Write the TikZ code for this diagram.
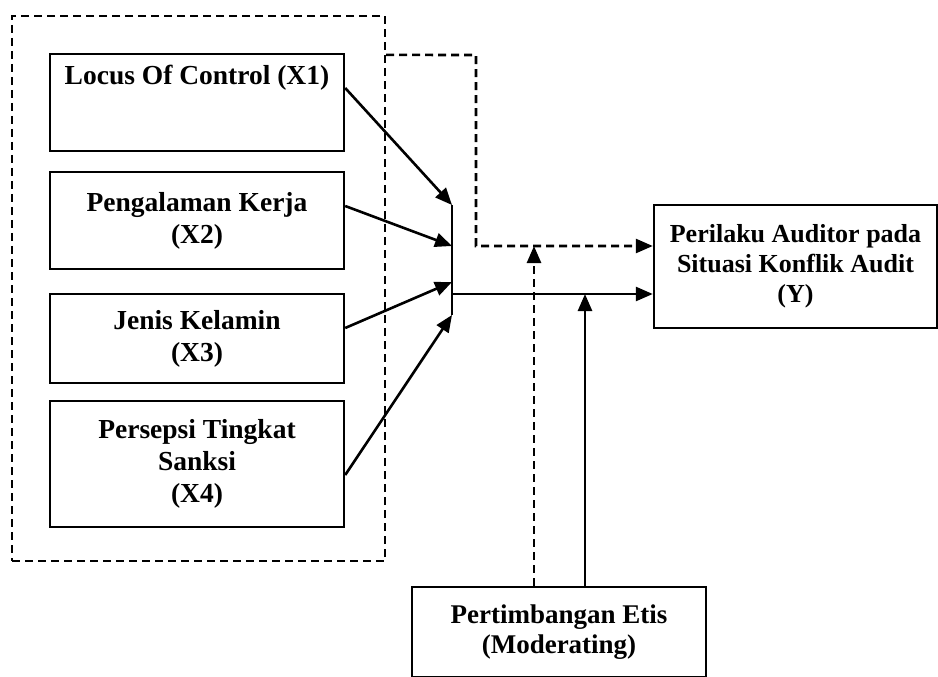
\documentclass[tikz,border=0pt]{standalone}
\usepackage{fontspec}
\setmainfont{Liberation Serif}
\usetikzlibrary{arrows.meta,calc}
\begin{document}
\begin{tikzpicture}[x=1pt,y=-1pt,
  box/.style={draw,line width=2.4pt,rectangle,inner sep=0pt,align=center,
    font=\fontsize{27.5}{32}\selectfont\bfseries},
  grpbox/.style={draw,line width=2.2pt,dash pattern=on 8pt off 5pt,rectangle,inner sep=0pt},
  arr/.style={line width=2.6pt,-{Triangle[length=17pt,width=14pt]}},
  darr/.style={line width=2.6pt,dash pattern=on 8pt off 5pt,-{Triangle[length=17pt,width=14pt]}},
  bar/.style={line width=2.4pt}]
\useasboundingbox (0,0) rectangle (938,677);
% group
\node[grpbox,minimum width=373pt,minimum height=545pt] (grp) at (198.5,288.5) {};
% independent boxes
\node[box,minimum width=294pt,minimum height=97pt,
  label={[anchor=north,inner sep=0pt,yshift=-12pt,font=\fontsize{27.5}{32}\selectfont\bfseries]north:Locus Of Control (X1)}] (x1) at (197,102.5) {};
\node[box,minimum width=294pt,minimum height=97pt] (x2) at (197,220.5) {Pengalaman Kerja\\(X2)};
\node[box,minimum width=294pt,minimum height=89pt] (x3) at (197,338.5) {Jenis Kelamin\\(X3)};
\node[box,minimum width=294pt,minimum height=126pt] (x4) at (197,464) {Persepsi Tingkat\\Sanksi\\(X4)};
% dependent
\node[box,minimum width=283pt,minimum height=123pt,font=\fontsize{26}{30}\selectfont\bfseries] (y) at (795.5,266.5) {Perilaku Auditor pada\\Situasi Konflik Audit\\(Y)};
% moderating
\node[box,minimum width=294pt,minimum height=90pt,font=\fontsize{27}{30}\selectfont\bfseries] (m) at (559,632) {Pertimbangan Etis\\(Moderating)};
% junction bar
\coordinate (b1) at (452,205);
\coordinate (b2) at (452,246);
\coordinate (b3) at (452,282);
\coordinate (b4) at (452,315);
\coordinate (bm) at (452,294);
\draw[bar] (b1) -- (b4);
% arrows into the bar
\draw[arr] ($(x1.east)+(0,-14.5)$) -- (b1);
\draw[arr] ($(x2.east)+(0,-14.5)$) -- (b2);
\draw[arr] ($(x3.east)+(0,-10.5)$) -- (b3);
\draw[arr] ($(x4.east)+(0,11)$) -- (b4);
% main solid
\draw[arr] (bm) -- (bm -| y.west);
% dashed path from group
\coordinate (gc) at ($(grp.north east)+(0,40)$);
\coordinate (gk) at (476,55);
\coordinate (gd) at (476,246);
\draw[darr] (gc) -- (gk) -- (gd) -- (gd -| y.west);
% moderating arrows
\coordinate (md) at (534,246);
\coordinate (ms) at (585,294);
\draw[darr] (md |- m.north) -- (md);
\draw[arr] (ms |- m.north) -- (ms);
\end{tikzpicture}
\end{document}
